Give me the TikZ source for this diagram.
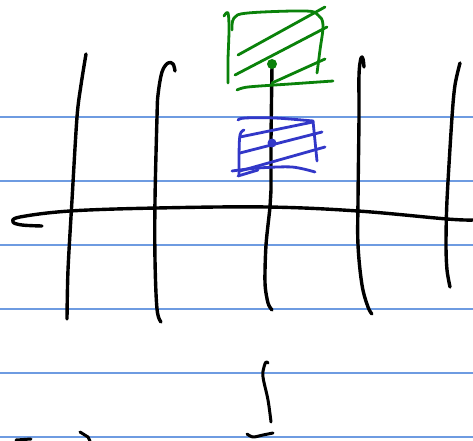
\documentclass[tikz,border=0pt]{standalone}
\definecolor{rulec}{RGB}{110,155,225}
\definecolor{gc}{RGB}{10,130,10}
\definecolor{bc}{RGB}{50,55,200}
\begin{document}
\begin{tikzpicture}[x=1bp,y=-1bp,
  rule/.style={draw=rulec,line width=1.1bp},
  ink/.style={draw=black,line width=3.4bp,line cap=round,line join=round},
  gink/.style={draw=gc,line width=2.8bp,line cap=round,line join=round},
  bink/.style={draw=bc,line width=2.8bp,line cap=round,line join=round}]
\useasboundingbox[fill=white] (0,0) rectangle (473,441);
% ruled lines
\foreach \yy in {117,181,245,309,373,437} \draw[rule] (0,\yy) -- (473,\yy);
% horizontal stroke
\draw[ink] plot[smooth,tension=0.6] coordinates {(42,226) (22,225) (13,222) (20,217) (70,211) (157,208) (267,207) (358,211) (447,219) (473,220)};
% vertical strokes
\draw[ink] plot[smooth] coordinates {(86,54) (81,85) (77,117) (72,200) (68,270) (67,319)};
\draw[ink] plot[smooth,tension=0.6] coordinates {(175,71) (173,64) (168,63) (162,72) (158,95) (157,117) (155,200) (155,260) (157,309) (161,322)};
\draw[ink] plot[smooth] coordinates {(272,66) (271,140) (271,190) (270,207) (266,245) (265,283) (268,303) (272,310)};
\draw[ink] plot[smooth,tension=0.6] coordinates {(364,67) (363,59) (361,58) (359,75) (359,117) (358,200) (358,245) (362,285) (368,307) (372,314)};
\draw[ink] plot[smooth] coordinates {(460,63) (455,85) (452,117) (447,200) (446,245) (447,270) (450,287)};
% bottom strokes
\draw[ink,line width=3bp] plot[smooth,tension=0.6] coordinates {(268,363) (266,362) (264,367) (263,377) (268,400) (271,422)};
\draw[ink,line width=3bp] plot[smooth] coordinates {(247,434) (253,437) (263,435) (273,433)};
\draw[ink,line width=3bp] (16,440) -- (31,439);
\draw[ink,line width=3bp] (80,432) -- (88,437) -- (90,441);
% green box
\draw[gink] plot[smooth,tension=0.6] coordinates {(224,16) (228,13) (229,30) (228,60) (228,83)};
\draw[gink] plot[smooth,tension=0.6] coordinates {(232,30) (234,18) (248,13) (305,11) (318,15) (323,25) (320,50) (317,73)};
\draw[gink] (238,55) -- (325,7);
\draw[gink] (235,75) -- (327,27);
\draw[gink] (272,83) -- (325,59);
\draw[gink] plot[smooth] coordinates {(237,90) (248,87) (290,84) (333,81)};
\fill[gc] (272,64) circle (5bp);
% blue box
\draw[bink] plot[smooth,tension=0.6] coordinates {(238,120) (245,118) (275,118) (313,121)};
\draw[bink] plot[smooth,tension=0.6] coordinates {(244,130) (240,135) (239,155) (239,175)};
\draw[bink] (313,121) -- (317,161);
\draw[bink] (240,137) -- (313,122);
\draw[bink] (240,153) -- (322,132);
\draw[bink] (240,171) -- (325,147);
\draw[bink] plot[smooth] coordinates {(232,171) (258,168) (292,167) (315,172)};
\draw[bink] (238,176) -- (258,170);
\fill[bc] (272,143) circle (4.5bp);
\end{tikzpicture}
\end{document}
